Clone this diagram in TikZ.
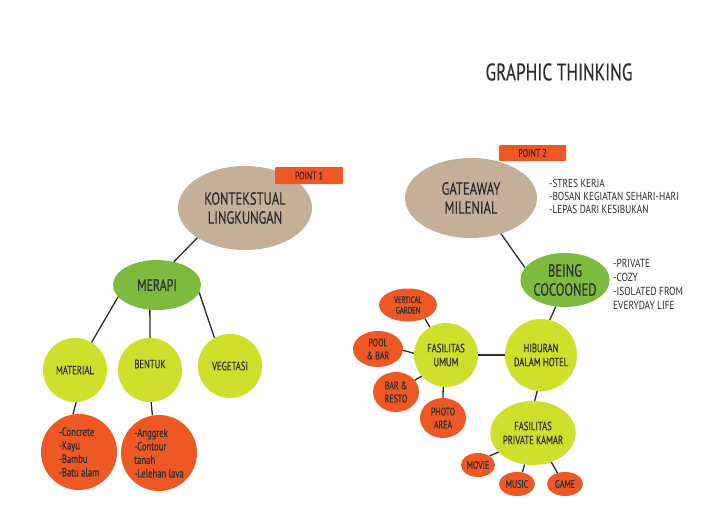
\documentclass[tikz,border=0pt]{standalone}
\usepackage{fontspec}
\setmainfont{PT Sans}
\newfontfamily\cf{PT Sans}[FakeStretch=0.72,FakeBold=0.3]
\newfontfamily\nf{PT Sans}[FakeStretch=0.8]
\usetikzlibrary{shapes.geometric}
\definecolor{tanbg}{RGB}{196,175,153}
\definecolor{leaf}{RGB}{125,186,62}
\definecolor{lime}{RGB}{208,222,44}
\definecolor{orng}{RGB}{238,88,36}
\definecolor{ink}{RGB}{45,45,45}
\definecolor{ptxt}{RGB}{80,30,10}
\newcommand\fsz[2]{\fontsize{#1}{#2}\selectfont}
\tikzset{
  blob/.style={ellipse, inner sep=0pt, text=ink, align=center},
  disc/.style={circle, inner sep=0pt, text=ink, align=center},
  conn/.style={draw=ink, line width=1.3pt},
  ptbox/.style={rectangle, rounded corners=1pt, fill=orng, inner sep=0pt, text=ptxt, font={\cf\fsz{11}{12}}},
  note/.style={anchor=west, align=left, text=ink, inner sep=0pt}
}
\begin{document}
\begin{tikzpicture}[x=1pt,y=-1pt]
\fill[white] (0,0) rectangle (711,506);
\useasboundingbox (0,0) rectangle (711,506);

% title
\node[text=ink, font={\cf\fsz{24}{26}}] (title) at (559,72) {GRAPHIC THINKING};

% ---------- left tree ----------
\node[blob, fill=tanbg, minimum width=134pt, minimum height=84pt, font={\cf\fsz{17.5}{19}}] (kont) at (245,208) {KONTEKSTUAL\\LINGKUNGAN};
\node[ptbox, minimum width=68pt, minimum height=17pt] (p1) at (309,175.5) {POINT 1};

\node[blob, fill=leaf, minimum width=88pt, minimum height=50pt, font={\cf\fsz{16.5}{18}}] (merapi) at (157,285) {MERAPI};

\node[disc, fill=lime, minimum size=64pt, font={\cf\fsz{12}{14}}] (mat) at (75,370) {MATERIAL};
\node[disc, fill=lime, minimum size=64pt] (bentuk) at (150,370) {};
\node[text=ink, font={\cf\fsz{12}{14}}] (bentukt) at (150,364) {BENTUK};
\node[disc, fill=lime, minimum size=64pt, font={\cf\fsz{12}{14}}] (veg) at (230,366) {VEGETASI};

\node[disc, fill=orng, minimum size=76pt, font={\cf\fsz{12}{13.5}}, align=left] (o1) at (79,452) {-Concrete\\-Kayu\\-Bambu\\-Batu alam};
\node[disc, fill=orng, minimum size=76pt, font={\cf\fsz{12}{13.5}}, align=left] (o2) at (159,453) {-Anggrek\\-Contour\\tanah\\-Lelehan lava};

\draw[conn] (kont.212) -- (merapi.54);
\draw[conn] (merapi.197) -- (mat.59);
\draw[conn] (merapi.254) -- (bentuk.90);
\draw[conn] (merapi.350) -- (veg.119);
\draw[conn] (mat.272) -- (o1.99);
\draw[conn] (bentuk.272) -- (o2.100);

% ---------- right tree ----------
\node[blob, fill=tanbg, minimum width=132pt, minimum height=80pt, font={\cf\fsz{17.5}{19}}] (gate) at (471,198) {GATEAWAY\\MILENIAL};
\node[ptbox, minimum width=67pt, minimum height=16pt] (p2) at (532.5,153) {POINT 2};
\node[note, font={\nf\fsz{11.6}{13}}] (gnote) at (549,196) {-STRES KERJA\\-BOSAN KEGIATAN SEHARI-HARI\\-LEPAS DARI KESIBUKAN};

\node[blob, fill=leaf, minimum width=82pt, minimum height=54pt, font={\cf\fsz{17.5}{19}}] (being) at (565,280) {BEING\\COCOONED};
\node[note, font={\nf\fsz{11.7}{14}}] (bnote) at (613,284) {-PRIVATE\\-COZY\\-ISOLATED FROM\\EVERYDAY LIFE};

\node[disc, fill=lime, minimum size=72pt, font={\cf\fsz{12}{14}}] (hib) at (541,355) {HIBURAN\\DALAM HOTEL};
\node[disc, fill=lime, minimum size=64pt, font={\cf\fsz{12}{14}}] (fu) at (446,355) {FASILITAS\\UMUM};

\node[blob, fill=orng, minimum width=58pt, minimum height=33pt, font={\cf\fsz{9.3}{10.5}}] (vg) at (408,305) {VERTICAL\\GARDEN};
\node[blob, fill=orng, minimum width=50pt, minimum height=36pt, font={\cf\fsz{11}{13}}] (pb) at (378,349) {POOL\\\& BAR};
\node[blob, fill=orng, minimum width=46pt, minimum height=40pt, font={\cf\fsz{11}{13}}] (br) at (396,392) {BAR \&\\RESTO};
\node[blob, fill=orng, minimum width=46pt, minimum height=40pt, font={\cf\fsz{11}{13}}] (pa) at (443,418) {PHOTO\\AREA};

\node[blob, fill=lime, minimum width=80pt, minimum height=64pt, font={\cf\fsz{12}{14}}] (fpk) at (533,433) {FASILITAS\\PRIVATE KAMAR};
\node[blob, fill=orng, minimum width=34pt, minimum height=24pt, font={\cf\fsz{11}{12}}] (movie) at (478,465) {MOVIE};
\node[blob, fill=orng, minimum width=36pt, minimum height=24pt, font={\cf\fsz{11}{12}}] (music) at (517,484) {MUSIC};
\node[blob, fill=orng, minimum width=36pt, minimum height=24pt, font={\cf\fsz{11}{12}}] (game) at (565,484) {GAME};

\draw[conn] (gate.310) -- (being.163);
\draw[conn] (being.251) -- (hib.76);
\draw[conn] (fu.east) -- (hib.west);
\draw[conn] (vg.321) -- (fu.120);
\draw[conn] (pb.357) -- (fu.177);
\draw[conn] (br.32) -- (fu.221);
\draw[conn] (pa.north) -- (fu.265);
\draw[conn] (hib.264) -- (fpk.87);
\draw[conn] (movie.38) -- (fpk.209);
\draw[conn] (music.65) -- (fpk.255);
\draw[conn] (game.124) -- (fpk.302);
\end{tikzpicture}
\end{document}
